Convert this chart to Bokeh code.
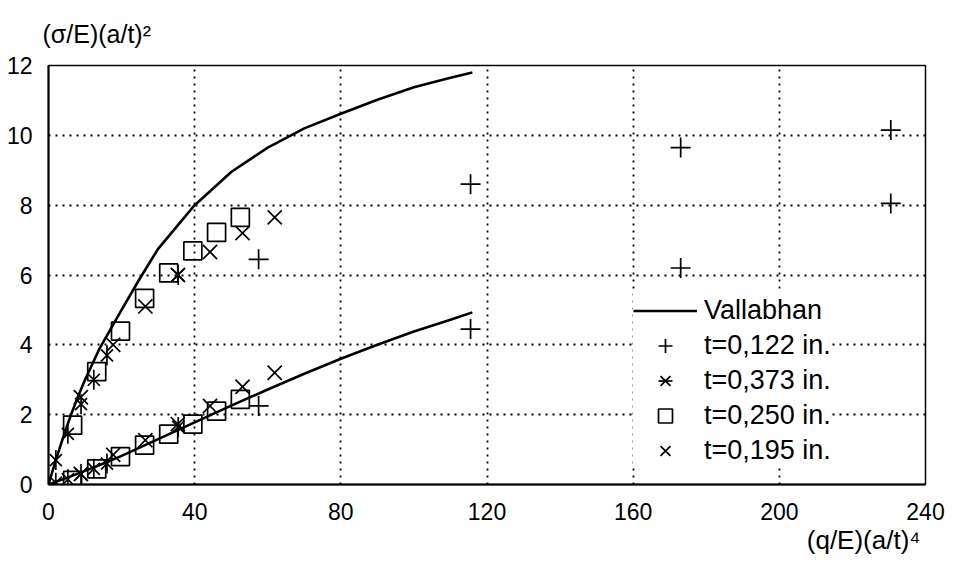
import numpy as np
from bokeh.plotting import figure
from bokeh.models import Legend, LegendItem, Title, FixedTicker, Range1d
from bokeh.embed import file_html
from bokeh.resources import INLINE

# Vallabhan theoretical curves
vall_up_x = [0, 2, 4, 6, 8, 10, 14, 20, 25, 30, 40, 50, 60, 70, 80, 90, 100, 110, 116]
vall_up_y = [0, 0.7, 1.35, 1.95, 2.5, 3.0, 3.9, 5.0, 5.9, 6.75, 8.0, 8.95, 9.65, 10.2, 10.62, 11.02, 11.38, 11.65, 11.8]
vall_lo_x = [0, 5, 10, 15, 20, 30, 40, 50, 60, 70, 80, 90, 100, 110, 116]
vall_lo_y = [0, 0.19, 0.39, 0.6, 0.82, 1.3, 1.78, 2.26, 2.72, 3.17, 3.6, 4.0, 4.38, 4.72, 4.93]

# t = 0,122 in. (+)
t122_x = [57.5, 115.5, 173, 230.5]
t122_up = [6.45, 8.6, 9.65, 10.15]
t122_lo = [2.25, 4.45, 6.2, 8.05]

# t = 0,373 in. (asterisk)
t373_x = [2.0, 5.3, 8.9, 12.4, 16.0, 35.5]
t373_up = [0.7, 1.45, 2.3, 3.0, 3.7, 6.0]
t373_lo = [0.05, 0.15, 0.3, 0.45, 0.6, 1.65]

# t = 0,250 in. (square)
t250_x = [6.6, 13.2, 19.7, 26.3, 32.9, 39.5, 46.0, 52.5]
t250_up = [1.7, 3.23, 4.39, 5.33, 6.06, 6.69, 7.22, 7.65]
t250_lo = [0.12, 0.45, 0.8, 1.13, 1.44, 1.73, 2.1, 2.44]

# t = 0,195 in. (x)
t195_x = [8.85, 17.7, 26.5, 35.4, 44.2, 53.1, 61.9]
t195_up = [2.5, 4.0, 5.1, 6.0, 6.66, 7.2, 7.65]
t195_lo = [0.3, 0.85, 1.27, 1.73, 2.25, 2.8, 3.2]

x_ticks = [0, 40, 80, 120, 160, 200, 240]
y_ticks = [0, 2, 4, 6, 8, 10, 12]

FONT = "Liberation Sans"

p = figure(width=946, height=554, output_backend="svg", toolbar_location=None,
           x_range=Range1d(0, 240), y_range=Range1d(0, 12),
           min_border_left=48, min_border_right=21, min_border_top=65, min_border_bottom=67)

p.xaxis.ticker = FixedTicker(ticks=x_ticks)
p.yaxis.ticker = FixedTicker(ticks=y_ticks)
for ax in (p.xaxis[0], p.yaxis[0]):
    ax.major_tick_line_color = None
    ax.minor_tick_line_color = None
    ax.axis_line_color = "black"
    ax.axis_line_width = 2
    ax.major_label_text_font = FONT
    ax.major_label_text_font_size = "23px"
    ax.major_label_text_color = "black"
p.xaxis.major_label_standoff = 12
p.yaxis.major_label_standoff = 10

p.grid.grid_line_color = "black"
p.grid.grid_line_dash = "2 5"
p.grid.grid_line_width = 1.8
p.outline_line_color = "black"
p.outline_line_width = 1.5
p.background_fill_color = "white"

LC = "black"
r_v1 = p.line(vall_up_x, vall_up_y, line_color=LC, line_width=2.6)
r_v2 = p.line(vall_lo_x, vall_lo_y, line_color=LC, line_width=2.6)

def ms(kind, xs, ys, size, **kw):
    return p.scatter(xs, ys, marker=kind, size=size, line_color="black", fill_color=None,
                     line_width=1.7, **kw)

r_p1 = ms("cross", t122_x, t122_up, 20)
r_p2 = ms("cross", t122_x, t122_lo, 20)
r_a1 = ms("x", t373_x, t373_up, 17)
r_a2 = ms("x", t373_x, t373_lo, 17)
r_a3 = ms("dash", t373_x, t373_up, 20, angle=np.pi / 2)
r_a4 = ms("dash", t373_x, t373_lo, 20, angle=np.pi / 2)
r_s1 = ms("square", t250_x, t250_up, 18)
r_s2 = ms("square", t250_x, t250_lo, 18)
r_x1 = ms("x", t195_x, t195_up, 20)
r_x2 = ms("x", t195_x, t195_lo, 20)

legend = Legend(items=[
    LegendItem(label="Vallabhan", renderers=[r_v1]),
    LegendItem(label="t=0,122 in.", renderers=[r_p1]),
    LegendItem(label="t=0,373 in.", renderers=[r_a1, r_a3]),
    LegendItem(label="t=0,250 in.", renderers=[r_s1]),
    LegendItem(label="t=0,195 in.", renderers=[r_x1]),
], location=(585, 16))
legend.background_fill_color = "white"
legend.background_fill_alpha = 1.0
legend.border_line_color = None
legend.label_text_font = FONT
legend.label_text_font_size = "27px"
legend.label_text_color = "black"
legend.glyph_width = 64
legend.glyph_height = 35
legend.label_height = 35
legend.spacing = 0
legend.padding = 4
legend.margin = 0
legend.label_standoff = 7
p.add_layout(legend, "center")

spacer = Title(text=" ", align="left", standoff=0, text_font=FONT, text_font_size="14px")
p.add_layout(spacer, "above")
y_title = Title(text="(σ/E)(a/t)²", align="left", offset=-6, standoff=0,
                text_font=FONT, text_font_size="25px", text_font_style="normal",
                text_color="black")
p.add_layout(y_title, "above")
x_title = Title(text="(q/E)(a/t)⁴", align="right", offset=5, standoff=0,
                text_font=FONT, text_font_size="26px", text_font_style="normal",
                text_color="black")
p.add_layout(x_title, "below")

open("out.html", "w").write(file_html(p, INLINE))
